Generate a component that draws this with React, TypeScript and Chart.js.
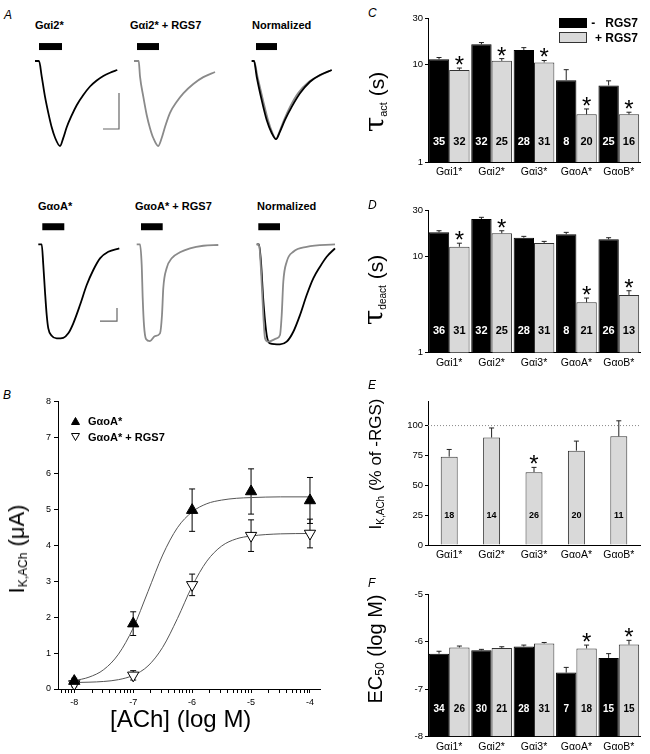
import React, { useEffect, useRef } from "react";
import { Chart, registerables } from "chart.js";

Chart.register(...registerables);

const FONT = '"Liberation Sans", Arial, Helvetica, sans-serif';
const TRACE_GRAY = "#8a8a8a";
const BAR_GRAY = "#d9d9d9";

// ---------------- Panel A: I_K,ACh current traces (time, current normalised to peak) ----------------
const i2Time = [5, 9, 11.7, 15, 18.3, 21.7, 25, 30, 33.3, 36.7, 41.7, 46.7, 53.3, 60, 66.7, 73.3, 80, 87.3];
const i2Current = [0, 0, -0.18, -0.42, -0.61, -0.78, -0.9, -1.0, -0.905, -0.78, -0.64, -0.52, -0.4, -0.3, -0.23, -0.176, -0.138, -0.106];

const i2RgsTime = [6, 10.7, 12, 15.3, 18.7, 22, 25.3, 30.3, 33.7, 37, 42, 48.7, 55.3, 65.3, 75.3, 87];
const i2RgsCurrent = [0, 0, -0.18, -0.42, -0.635, -0.79, -0.906, -1.0, -0.906, -0.776, -0.61, -0.48, -0.38, -0.27, -0.19, -0.13];

const i2NormTime = [5.7, 8, 10.7, 15.7, 20.7, 25.7, 30, 34, 39, 45.7, 54, 64, 74, 85.7];
const i2NormCurrent = [0, 0, -0.185, -0.46, -0.694, -0.847, -0.92, -0.83, -0.694, -0.54, -0.38, -0.244, -0.165, -0.106];
const i2NormRgsTime = [5.7, 8, 11.5, 17, 22, 26.5, 30, 33.5, 38, 44, 52, 63, 74, 85.7];
const i2NormRgsCurrent = [0, 0, -0.185, -0.46, -0.694, -0.847, -0.92, -0.83, -0.694, -0.54, -0.38, -0.244, -0.17, -0.106];

const oATime = [6.3, 9.7, 11.3, 13, 14.7, 16.3, 19.7, 24.7, 31.3, 36.3, 41.3, 48, 54.7, 61.3, 68, 76.3, 87.3];
const oACurrent = [0, 0, -0.22, -0.504, -0.752, -0.894, -0.972, -1.0, -0.994, -0.947, -0.84, -0.646, -0.433, -0.273, -0.149, -0.079, -0.043];

const oARgsTime = [6.7, 10, 11.7, 12.7, 14, 16, 20, 25, 30, 32, 33.3, 36.7, 41.7, 50, 60, 73.3, 88.3];
const oARgsCurrent = [0, 0, -0.22, -0.57, -0.86, -1.007, -1.03, -0.976, -0.947, -0.752, -0.465, -0.252, -0.149, -0.085, -0.043, -0.015, -0.007];

const oANormTime = [6.7, 9, 11, 13.3, 16.7, 20, 30, 36.7, 43.3, 50, 56.7, 63.3, 70, 76.7, 85];
const oANormCurrent = [0, 0, -0.19, -0.593, -0.965, -1.053, -1.064, -1.036, -0.93, -0.752, -0.539, -0.362, -0.238, -0.132, -0.043];
const oANormRgsTime = [6.7, 9, 11, 13.3, 15, 18, 26.7, 30, 31.7, 33.3, 36.7, 43.3, 56.7, 85];
const oANormRgsCurrent = [0, 0, -0.27, -0.752, -1.0, -1.036, -1.0, -0.965, -0.752, -0.398, -0.185, -0.079, -0.026, 0];

// ACh application bars (time window) and calibration bars
const stimI2 = [9, 32];
const stimI2Rgs = [9, 31];
const stimI2Norm = [10, 31];
const stimOA = [10.3, 32.3];
const stimOARgs = [11, 32.7];
const stimOANorm = [8.3, 30];
const calI2Time = [73, 89, 89];
const calI2Current = [-0.8, -0.8, -0.376];
const calOATime = [68, 85, 85];
const calOACurrent = [-0.816, -0.816, -0.678];

// ---------------- Panel B: concentration-response ----------------
const achLog = [-8, -7, -6, -5, -4];
const oAAmp = [0.22, 1.82, 4.98, 5.5, 5.25];
const oAAmpErr = [0.08, 0.33, 0.59, 0.63, 0.64];
const oARgsAmp = [0.14, 0.38, 2.9, 4.27, 4.33];
const oARgsAmpErr = [0.08, 0.13, 0.3, 0.44, 0.4];
const fitLog = [-8, -7.75, -7.5, -7.25, -7, -6.75, -6.5, -6.25, -6, -5.75, -5.5, -5.25, -5, -4.5, -4];
const fitOA = [0.23, 0.33, 0.54, 0.97, 1.7, 2.71, 3.73, 4.49, 4.93, 5.16, 5.26, 5.31, 5.33, 5.35, 5.35];
const fitOARgs = [0.18, 0.19, 0.21, 0.26, 0.38, 0.64, 1.16, 1.96, 2.86, 3.56, 3.98, 4.18, 4.26, 4.32, 4.33];
const bYTicks = [0, 1, 2, 3, 4, 5, 6, 7, 8];
const bXTicks = [-8, -7, -6, -5, -4];
const bXMinor = [-9, -8, -7, -6, -5]
  .flatMap((d) => [2, 3, 4, 5, 6, 7, 8, 9].map((k) => d + Math.log10(k)))
  .filter((v) => v > -8.27 && v < -3.84);

// ---------------- Panels C-F ----------------
const categories = ["Gαi1*", "Gαi2*", "Gαi3*", "GαoA*", "GαoB*"];

const tauActMinus = [11.3, 16.1, 14.1, 6.9, 6.1];
const tauActMinusErr = [0.5, 0.7, 0.8, 1.95, 0.7];
const tauActPlus = [8.8, 10.9, 10.5, 3.08, 3.08];
const tauActPlusErr = [0.4, 0.6, 0.5, 0.42, 0.16];
const tauActMinusN = [35, 32, 28, 8, 25];
const tauActPlusN = [32, 25, 31, 20, 16];
const tauActSig = [true, true, true, true, true];

const tauDeactMinus = [17.6, 24.2, 15.5, 16.8, 14.9];
const tauDeactMinusErr = [0.7, 1.0, 0.5, 0.8, 0.6];
const tauDeactPlus = [12.5, 17.2, 13.7, 3.32, 3.96];
const tauDeactPlusErr = [1.1, 1.1, 0.5, 0.36, 0.42];
const tauDeactMinusN = [36, 32, 28, 8, 26];
const tauDeactPlusN = [31, 25, 31, 21, 13];
const tauDeactSig = [true, true, false, true, true];

const ikRatio = [74, 90, 61, 79, 91];
const ikRatioErr = [6, 8, 4, 8, 13];
const ikRatioN = [18, 14, 26, 20, 11];
const ikRatioSig = [false, false, true, false, false];

const ec50Minus = [-6.25, -6.18, -6.1, -6.65, -6.34];
const ec50MinusErr = [0.05, 0.02, 0.03, 0.11, 0.09];
const ec50Plus = [-6.12, -6.13, -6.035, -6.14, -6.06];
const ec50PlusErr = [0.03, 0.025, 0.02, 0.07, 0.09];
const ec50MinusN = [34, 30, 28, 7, 15];
const ec50PlusN = [26, 21, 31, 18, 15];
const ec50Sig = [false, false, false, true, true];

const tauTicks = [1, 10, 30];
const ikTicks = [0, 25, 50, 75, 100];
const ecTicks = [-8, -7, -6, -5];

// ---------------- helpers ----------------
const zip = (xs: number[], ys: number[]) => xs.map((x, i) => ({ x, y: ys[i] }));

function traceConfig(
  traces: { t: number[]; y: number[]; color: string }[],
  stim: number[],
  stimLevel: number,
  yMin: number,
  yMax: number,
  cal?: { t: number[]; y: number[] }
) {
  const datasets: any[] = [];
  traces.forEach((tr) =>
    datasets.push({
      data: zip(tr.t, tr.y),
      borderColor: tr.color,
      borderWidth: 1.8,
      pointRadius: 0,
      showLine: true,
      cubicInterpolationMode: "monotone",
    })
  );
  datasets.push({
    data: stim.map((t) => ({ x: t, y: stimLevel })),
    borderColor: "#000",
    borderWidth: 7,
    borderCapStyle: "butt",
    pointRadius: 0,
    showLine: true,
  });
  if (cal) {
    datasets.push({
      data: zip(cal.t, cal.y),
      borderColor: "#666",
      borderWidth: 1.2,
      pointRadius: 0,
      showLine: true,
    });
  }
  return {
    type: "scatter",
    data: { datasets },
    options: {
      animation: false,
      responsive: false,
      events: [],
      layout: { padding: 0 },
      plugins: { legend: { display: false }, tooltip: { enabled: false } },
      scales: {
        x: { type: "linear", display: false, min: 0, max: 100 },
        y: { type: "linear", display: false, min: yMin, max: yMax },
      },
    },
  };
}

const barExtras = {
  id: "barExtras",
  beforeDatasetsDraw(chart: any, _args: any, opts: any) {
    if (opts.refLine === undefined || opts.refLine === null) return;
    const { ctx, chartArea } = chart;
    const y = chart.scales.y.getPixelForValue(opts.refLine);
    ctx.save();
    ctx.strokeStyle = "#888";
    ctx.lineWidth = 1;
    ctx.setLineDash([1, 2]);
    ctx.beginPath();
    ctx.moveTo(chartArea.left, y);
    ctx.lineTo(chartArea.right, y);
    ctx.stroke();
    ctx.restore();
  },
  afterDatasetsDraw(chart: any, _args: any, opts: any) {
    const ctx = chart.ctx;
    const ys = chart.scales.y;
    chart.data.datasets.forEach((ds: any, di: number) => {
      const meta = chart.getDatasetMeta(di);
      meta.data.forEach((bar: any, i: number) => {
        const v = ds.data[i];
        const x = bar.x;
        const yTop = ys.getPixelForValue(v);
        const yErr = ys.getPixelForValue(v + ds.errors[i]);
        ctx.save();
        ctx.strokeStyle = "#222";
        ctx.lineWidth = 1;
        ctx.beginPath();
        ctx.moveTo(x, yTop);
        ctx.lineTo(x, yErr);
        ctx.moveTo(x - 2.5, yErr);
        ctx.lineTo(x + 2.5, yErr);
        ctx.stroke();
        ctx.fillStyle = ds.nColor;
        ctx.font = `bold ${opts.nFont}px ${FONT}`;
        ctx.textAlign = "center";
        ctx.textBaseline = "middle";
        ctx.fillText(String(ds.counts[i]), x, ys.getPixelForValue(opts.nAt));
        if (ds.sig && ds.sig[i]) {
          const size = 24;
          ctx.fillStyle = "#000";
          ctx.font = `${size}px ${FONT}`;
          ctx.textBaseline = "alphabetic";
          ctx.fillText("*", x, yErr - opts.starGap + 0.58 * size);
        }
        ctx.restore();
      });
    });
  },
};

function barConfig(cfg: any) {
  return {
    type: "bar",
    data: { labels: categories, datasets: cfg.datasets },
    options: {
      animation: false,
      responsive: false,
      events: [],
      layout: { padding: { top: cfg.padTop, right: 10, left: 0, bottom: 0 } },
      datasets: { bar: { categoryPercentage: cfg.catPct, barPercentage: cfg.barPct } },
      plugins: {
        legend: { display: false },
        tooltip: { enabled: false },
        barExtras: { nAt: cfg.nAt, nFont: cfg.nFont, starGap: 9, refLine: cfg.refLine },
      },
      scales: {
        x: {
          type: "category",
          offset: true,
          afterFit: (s: any) => {
            s.height = cfg.xHeight;
          },
          grid: { display: true, drawOnChartArea: false, drawTicks: false, color: "rgba(0,0,0,0)" },
          border: { display: true, color: "#000", width: 1 },
          ticks: { font: { family: FONT, size: 10.5 }, color: "#000", padding: 4, maxRotation: 0, autoSkip: false },
        },
        y: {
          type: cfg.yType,
          min: cfg.yMin,
          max: cfg.yMax,
          afterBuildTicks: (s: any) => {
            s.ticks = cfg.yTicks.map((v: number) => ({ value: v }));
          },
          afterFit: (s: any) => {
            s.width = 38;
          },
          grid: { display: true, drawOnChartArea: false, drawTicks: true, tickLength: 3, color: "#000" },
          border: { display: true, color: "#000", width: 1 },
          ticks: {
            font: { family: FONT, size: 9.5 },
            color: "#000",
            padding: 2,
            autoSkip: false,
            callback: (v: any) => String(v),
          },
        },
      },
    },
    plugins: [barExtras],
  };
}

const blackBar = (data: number[], errors: number[], counts: number[], extra: any = {}) => ({
  data,
  errors,
  counts,
  nColor: "#fff",
  backgroundColor: "#000",
  borderColor: "#000",
  borderWidth: 1,
  ...extra,
});
const grayBar = (data: number[], errors: number[], counts: number[], sig: boolean[], extra: any = {}) => ({
  data,
  errors,
  counts,
  sig,
  nColor: "#000",
  backgroundColor: BAR_GRAY,
  borderColor: "#333",
  borderWidth: 1,
  ...extra,
});

const doseErrors = {
  id: "doseErrors",
  beforeDatasetsDraw(chart: any) {
    const ctx = chart.ctx;
    const xs = chart.scales.x;
    const ys = chart.scales.y;
    const sets = [
      { m: oAAmp, e: oAAmpErr },
      { m: oARgsAmp, e: oARgsAmpErr },
    ];
    ctx.save();
    ctx.strokeStyle = "#000";
    ctx.lineWidth = 1;
    sets.forEach((s) => {
      achLog.forEach((c, i) => {
        const x = xs.getPixelForValue(c);
        const y1 = ys.getPixelForValue(s.m[i] + s.e[i]);
        const y2 = ys.getPixelForValue(s.m[i] - s.e[i]);
        ctx.beginPath();
        ctx.moveTo(x, y1);
        ctx.lineTo(x, y2);
        ctx.moveTo(x - 3, y1);
        ctx.lineTo(x + 3, y1);
        ctx.moveTo(x - 3, y2);
        ctx.lineTo(x + 3, y2);
        ctx.stroke();
      });
    });
    ctx.restore();
  },
};

function doseConfig() {
  return {
    type: "scatter",
    data: {
      datasets: [
        {
          data: zip(achLog, oAAmp),
          pointStyle: "triangle",
          pointRadius: 6.5,
          backgroundColor: "#000",
          borderColor: "#000",
          borderWidth: 1,
          order: 0,
        },
        {
          data: zip(achLog, oARgsAmp),
          pointStyle: "triangle",
          rotation: 180,
          pointRadius: 6.5,
          backgroundColor: "#fff",
          borderColor: "#000",
          borderWidth: 1,
          order: 0,
        },
        {
          data: zip(fitLog, fitOA),
          showLine: true,
          pointRadius: 0,
          borderColor: "#555",
          borderWidth: 1,
          cubicInterpolationMode: "monotone",
          order: 1,
        },
        {
          data: zip(fitLog, fitOARgs),
          showLine: true,
          pointRadius: 0,
          borderColor: "#555",
          borderWidth: 1,
          cubicInterpolationMode: "monotone",
          order: 1,
        },
      ],
    },
    options: {
      animation: false,
      responsive: false,
      events: [],
      layout: { padding: { top: 13.7, right: 10, left: 0, bottom: 0 } },
      plugins: { legend: { display: false }, tooltip: { enabled: false } },
      scales: {
        x: {
          type: "linear",
          min: -8.276,
          max: -3.83,
          afterBuildTicks: (s: any) => {
            s.ticks = [...bXTicks, ...bXMinor].sort((a, b) => a - b).map((v) => ({ value: v }));
          },
          afterFit: (s: any) => {
            s.height = 21;
          },
          grid: { display: true, drawOnChartArea: false, drawTicks: true, tickLength: 4, color: "#000" },
          border: { display: true, color: "#000", width: 1 },
          ticks: {
            font: { family: FONT, size: 9 },
            color: "#000",
            padding: 4,
            autoSkip: false,
            maxRotation: 0,
            callback: (v: any) => (bXTicks.includes(v) ? String(v) : ""),
          },
        },
        y: {
          type: "linear",
          min: 0,
          max: 8,
          afterBuildTicks: (s: any) => {
            s.ticks = bYTicks.map((v) => ({ value: v }));
          },
          afterFit: (s: any) => {
            s.width = 58;
          },
          grid: { display: true, drawOnChartArea: false, drawTicks: true, tickLength: 4, color: "#000" },
          border: { display: true, color: "#000", width: 1 },
          ticks: { font: { family: FONT, size: 9 }, color: "#000", padding: 3, callback: (v: any) => String(v) },
        },
      },
    },
    plugins: [doseErrors],
  };
}

function ChartBox({ left, top, width, height, make }: any) {
  const ref = useRef<HTMLCanvasElement>(null);
  useEffect(() => {
    const chart = new Chart(ref.current as HTMLCanvasElement, make());
    return () => chart.destroy();
  }, []);
  return (
    <canvas
      ref={ref}
      width={width}
      height={height}
      style={{ position: "absolute", left, top, width, height, display: "block" }}
    />
  );
}

function Txt({ left, right, cy, size = 11, bold = false, italic = false, children }: any) {
  return (
    <div
      style={{
        position: "absolute",
        left,
        right,
        top: cy,
        transform: "translateY(-50%)",
        fontSize: size,
        fontWeight: bold ? "bold" : "normal",
        fontStyle: italic ? "italic" : "normal",
        lineHeight: 1,
        whiteSpace: "pre",
      }}
    >
      {children}
    </div>
  );
}

function VTitle({ cx, cy, size, children }: any) {
  return (
    <div
      style={{
        position: "absolute",
        left: cx,
        top: cy,
        transform: "translate(-50%, -50%) rotate(-90deg)",
        fontSize: size,
        lineHeight: 1,
        whiteSpace: "nowrap",
      }}
    >
      {children}
    </div>
  );
}

const sub = (text: string, size: number, drop = 0.25) => (
  <span style={{ fontSize: size, position: "relative", top: `${drop}em` }}>{text}</span>
);

const tau = <span style={{ fontSize: 28, fontFamily: '"DejaVu Serif", serif' }}>τ</span>;

const TOP_Y = [-1.106, 0.2706];
const BOT_Y = [-1.156, 0.28];

export default function App() {
  return (
    <div
      style={{
        position: "absolute",
        left: 0,
        top: 0,
        width: 650,
        height: 754,
        background: "#fff",
        color: "#000",
        fontFamily: FONT,
        overflow: "hidden",
      }}
    >
      {/* ---------- Panel A ---------- */}
      <Txt left={4} cy={15} size={12} italic>A</Txt>
      <Txt left={35} cy={25} bold>Gαi2*</Txt>
      <Txt left={130} cy={25} bold>Gαi2* + RGS7</Txt>
      <Txt left={252} cy={25} bold>Normalized</Txt>
      <ChartBox left={30} top={38} width={100} height={117}
        make={() => traceConfig([{ t: i2Time, y: i2Current, color: "#000" }], stimI2, 0.17, TOP_Y[0], TOP_Y[1], { t: calI2Time, y: calI2Current })} />
      <ChartBox left={128} top={38} width={100} height={117}
        make={() => traceConfig([{ t: i2RgsTime, y: i2RgsCurrent, color: TRACE_GRAY }], stimI2Rgs, 0.17, TOP_Y[0], TOP_Y[1])} />
      <ChartBox left={246} top={38} width={100} height={117}
        make={() => traceConfig([
          { t: i2NormTime, y: i2NormCurrent, color: "#000" },
          { t: i2NormRgsTime, y: i2NormRgsCurrent, color: TRACE_GRAY },
        ], stimI2Norm, 0.17, TOP_Y[0], TOP_Y[1])} />

      <Txt left={38} cy={206} bold>GαoA*</Txt>
      <Txt left={135} cy={206} bold>GαoA* + RGS7</Txt>
      <Txt left={257} cy={206} bold>Normalized</Txt>
      <ChartBox left={32} top={218} width={100} height={135}
        make={() => traceConfig([{ t: oATime, y: oACurrent, color: "#000" }], stimOA, 0.187, BOT_Y[0], BOT_Y[1], { t: calOATime, y: calOACurrent })} />
      <ChartBox left={130} top={218} width={100} height={135}
        make={() => traceConfig([{ t: oARgsTime, y: oARgsCurrent, color: TRACE_GRAY }], stimOARgs, 0.187, BOT_Y[0], BOT_Y[1])} />
      <ChartBox left={250} top={218} width={100} height={135}
        make={() => traceConfig([
          { t: oANormRgsTime, y: oANormRgsCurrent, color: TRACE_GRAY },
          { t: oANormTime, y: oANormCurrent, color: "#000" },
        ], stimOANorm, 0.187, BOT_Y[0], BOT_Y[1])} />

      {/* ---------- Panel B ---------- */}
      <Txt left={3} cy={395} size={12} italic>B</Txt>
      <ChartBox left={0} top={388} width={330} height={322} make={doseConfig} />
      <svg style={{ position: "absolute", left: 71, top: 417 }} width={9} height={8}>
        <polygon points="4.5,0.5 8.5,7.5 0.5,7.5" fill="#000" stroke="#000" />
      </svg>
      <svg style={{ position: "absolute", left: 71, top: 433 }} width={9} height={8}>
        <polygon points="0.5,0.5 8.5,0.5 4.5,7.5" fill="#fff" stroke="#000" />
      </svg>
      <Txt left={88} cy={421} bold>GαoA*</Txt>
      <Txt left={88} cy={437} bold>GαoA* + RGS7</Txt>
      <VTitle cx={17} cy={549} size={22}>
        I{sub("K,ACh", 12)} (μA)
      </VTitle>
      <Txt left={110} cy={719} size={24}>[ACh] (log M)</Txt>

      {/* ---------- Panel C ---------- */}
      <Txt left={368} cy={13} size={12} italic>C</Txt>
      <ChartBox left={390} top={4} width={260} height={186}
        make={() => barConfig({
          datasets: [
            blackBar(tauActMinus, tauActMinusErr, tauActMinusN),
            grayBar(tauActPlus, tauActPlusErr, tauActPlusN, tauActSig),
          ],
          yType: "logarithmic", yMin: 1, yMax: 30, yTicks: tauTicks,
          padTop: 14, xHeight: 28, nAt: 1.59, nFont: 11, catPct: 0.96, barPct: 1,
        })} />
      <div style={{ position: "absolute", left: 559, top: 18, width: 28, height: 10, background: "#000" }} />
      <div style={{ position: "absolute", left: 559, top: 32, width: 26, height: 9, background: BAR_GRAY, border: "1px solid #333" }} />
      <Txt right={12} cy={23} size={12} bold>{"-   RGS7"}</Txt>
      <Txt right={12} cy={37.5} size={12} bold>{"+ RGS7"}</Txt>
      <VTitle cx={375} cy={102} size={21}>
        {tau}
        {sub("act", 11, 0.3)} (s)
      </VTitle>

      {/* ---------- Panel D ---------- */}
      <Txt left={368} cy={205} size={12} italic>D</Txt>
      <ChartBox left={390} top={196} width={260} height={186}
        make={() => barConfig({
          datasets: [
            blackBar(tauDeactMinus, tauDeactMinusErr, tauDeactMinusN),
            grayBar(tauDeactPlus, tauDeactPlusErr, tauDeactPlusN, tauDeactSig),
          ],
          yType: "logarithmic", yMin: 1, yMax: 30, yTicks: tauTicks,
          padTop: 14, xHeight: 29.3, nAt: 1.68, nFont: 11, catPct: 0.96, barPct: 1,
        })} />
      <VTitle cx={374} cy={290} size={21}>
        {tau}
        {sub("deact", 10, 0.3)} (s)
      </VTitle>

      {/* ---------- Panel E ---------- */}
      <Txt left={368} cy={385} size={12} italic>E</Txt>
      <ChartBox left={390} top={388} width={260} height={186}
        make={() => barConfig({
          datasets: [grayBar(ikRatio, ikRatioErr, ikRatioN, ikRatioSig)],
          yType: "linear", yMin: 0, yMax: 120, yTicks: ikTicks,
          padTop: 13.7, xHeight: 29, nAt: 25, nFont: 9, catPct: 1, barPct: 0.4, refLine: 100,
        })} />
      <VTitle cx={375} cy={464} size={17}>
        I{sub("K,ACh", 10)} (% of -RGS)
      </VTitle>

      {/* ---------- Panel F ---------- */}
      <Txt left={368} cy={583} size={12} italic>F</Txt>
      <ChartBox left={390} top={580} width={260} height={174}
        make={() => barConfig({
          datasets: [
            blackBar(ec50Minus, ec50MinusErr, ec50MinusN, { base: -8 }),
            grayBar(ec50Plus, ec50PlusErr, ec50PlusN, ec50Sig, { base: -8 }),
          ],
          yType: "linear", yMin: -8, yMax: -5, yTicks: ecTicks,
          padTop: 14.3, xHeight: 17.3, nAt: -7.42, nFont: 10, catPct: 0.96, barPct: 1,
        })} />
      <VTitle cx={375} cy={649} size={20}>
        EC{sub("50", 12, 0.2)} (log M)
      </VTitle>
    </div>
  );
}
